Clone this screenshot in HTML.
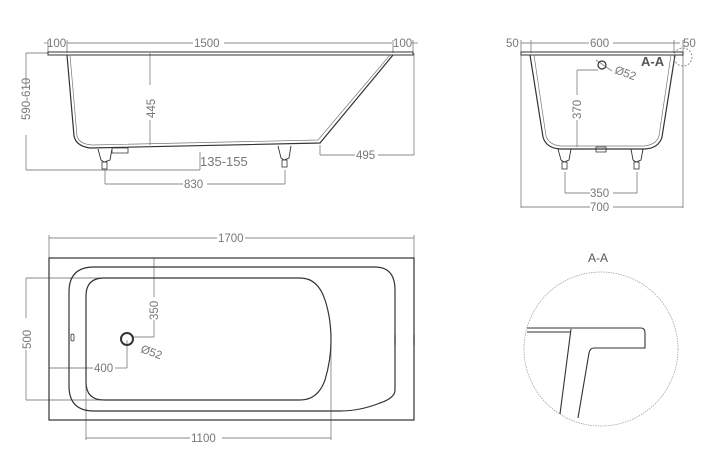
<!DOCTYPE html>
<html><head><meta charset="utf-8"><style>
html,body{margin:0;padding:0;background:#fff;}
svg{display:block;}
text{font-family:"Liberation Sans",sans-serif;font-size:11.5px;fill:#777;}
</style></head><body>
<svg width="723" height="473" viewBox="0 0 723 473" xmlns="http://www.w3.org/2000/svg">
<g fill="none" stroke="#888" stroke-width="0.9">
<line x1="44" y1="43" x2="48" y2="43"/><line x1="67" y1="43" x2="193" y2="43"/><line x1="224" y1="43" x2="392" y2="43"/><line x1="412" y1="43" x2="418" y2="43"/>
<line x1="48" y1="40" x2="48" y2="53"/><line x1="67" y1="40" x2="67" y2="53"/><line x1="393" y1="40" x2="393" y2="53"/><line x1="413" y1="40" x2="413" y2="53"/>
<line x1="26" y1="53" x2="48" y2="53"/><line x1="26" y1="53" x2="26" y2="88"/><line x1="26" y1="135" x2="26" y2="170"/><line x1="26" y1="170" x2="200" y2="170"/>
<line x1="200" y1="152" x2="200" y2="170"/>
<line x1="150" y1="53" x2="150" y2="85"/><line x1="150" y1="120" x2="150" y2="145"/>
<line x1="105" y1="170" x2="105" y2="184"/><line x1="285" y1="170" x2="285" y2="184"/>
<line x1="105" y1="184" x2="183" y2="184"/><line x1="207" y1="184" x2="285" y2="184"/>
<line x1="414" y1="53" x2="414" y2="155"/><line x1="320" y1="145" x2="320" y2="155"/>
<line x1="320" y1="155" x2="355" y2="155"/><line x1="378" y1="155" x2="414" y2="155"/>
<line x1="521" y1="43" x2="589" y2="43"/><line x1="613" y1="43" x2="680" y2="43"/>
<line x1="521" y1="40" x2="521" y2="208"/><line x1="683" y1="40" x2="683" y2="208"/><line x1="531" y1="40" x2="531" y2="53"/><line x1="674" y1="40" x2="674" y2="53"/>
<line x1="521" y1="207" x2="590" y2="207"/><line x1="613" y1="207" x2="683" y2="207"/>
<line x1="565" y1="172" x2="565" y2="193"/><line x1="637" y1="172" x2="637" y2="193"/>
<line x1="565" y1="193" x2="590" y2="193"/><line x1="613" y1="193" x2="637" y2="193"/>
<line x1="577" y1="70" x2="577" y2="95"/><line x1="577" y1="120" x2="577" y2="147"/><line x1="577" y1="70" x2="598" y2="70"/>
<line x1="596" y1="60" x2="612" y2="71"/>
<line x1="49" y1="235" x2="49" y2="258"/><line x1="414" y1="235" x2="414" y2="258"/>
<line x1="49" y1="238" x2="217" y2="238"/><line x1="245" y1="238" x2="414" y2="238"/>
<line x1="26" y1="278" x2="110" y2="278"/><line x1="26" y1="400" x2="110" y2="400"/>
<line x1="26" y1="278" x2="26" y2="318"/><line x1="26" y1="350" x2="26" y2="400"/>
<line x1="154" y1="258" x2="154" y2="297"/><line x1="154" y1="320" x2="154" y2="337"/><line x1="133" y1="337" x2="154" y2="337"/>
<line x1="49" y1="368" x2="93" y2="368"/><line x1="115" y1="368" x2="127" y2="368"/><line x1="127" y1="340" x2="127" y2="368"/>
<line x1="86" y1="380" x2="86" y2="440"/><line x1="331" y1="340" x2="331" y2="440"/>
<line x1="86" y1="438" x2="190" y2="438"/><line x1="222" y1="438" x2="331" y2="438"/>
</g>
<g fill="none" stroke="#333" stroke-width="1.2">
<path d="M48 52 H413 V55 H48 Z" stroke-width="1"/>
<path d="M67 55 L74 136 Q76 146 90 148 L320 143 L393 55"/>
<path d="M70 55 L77 136 Q79 144 92 145 L318 140 L390 55" stroke="#777" stroke-width="0.7"/>
<path d="M112 148 H128 V153 H112 Z" stroke-width="0.8"/>
<path d="M98 149 L101 160 L104 162 L110 160 L112 149" stroke-width="0.9"/>
<rect x="102" y="162" width="5" height="7" stroke-width="0.8"/>
<path d="M278 146 L281 158 L284 160 L289 158 L291 146" stroke-width="0.9"/>
<rect x="282" y="160" width="5" height="7" stroke-width="0.8"/>
<path d="M521 52 H683 V55 H521 Z" stroke-width="1"/>
<path d="M530 55 L543 137 Q546 148 560 149 L645 149 Q659 148 662 137 L675 55"/>
<path d="M534 55 L546 136 Q549 145 561 146 L644 146 Q656 145 659 136 L671 55" stroke="#777" stroke-width="0.7"/>
<path d="M596 147 H606 V152 H596 Z" stroke-width="0.8"/>
<path d="M558 149 L561 160 L564 162 L569 160 L571 149" stroke-width="0.9"/>
<rect x="562" y="162" width="5" height="7" stroke-width="0.8"/>
<path d="M631 149 L633 160 L636 162 L641 160 L643 149" stroke-width="0.9"/>
<rect x="634" y="162" width="5" height="7" stroke-width="0.8"/>
<circle cx="602" cy="65" r="4"/>
<circle cx="683" cy="57" r="9" stroke="#777" stroke-dasharray="2 1.5" stroke-width="0.8"/>
<rect x="49" y="258" width="365" height="162"/>
<path d="M94 267 H375 Q395 267 395 290 V390 Q395 398 380 403 Q360 411 340 411 H94 Q69 411 69 386 V292 Q69 267 94 267 Z"/>
<path d="M104 278 H300 Q318 278 325 300 Q331 318 331 340 Q331 360 325 380 Q318 400 300 400 H104 Q86 400 86 382 V296 Q86 278 104 278 Z"/>
<circle cx="127" cy="339" r="6" stroke-width="2"/>
<rect x="71" y="334" width="3" height="7" rx="1.5" stroke-width="0.8"/>
<line x1="395" y1="335" x2="395" y2="345"/><line x1="414" y1="335" x2="414" y2="345"/>
<circle cx="601" cy="349" r="77" stroke="#999" stroke-dasharray="1.5 1" stroke-width="0.7"/>
<path d="M527 328 H641 Q645 328 645 333 V348 H594 Q590 348 589 353 L578 418" stroke-width="1.1"/>
<path d="M527 332 H570" stroke-width="1.1"/>
<path d="M571 329 L560 414" stroke-width="1.1"/>
</g>
<text x="47" y="47">100</text>
<text x="194" y="47">1500</text>
<text x="393" y="47">100</text>
<text x="0" y="0" transform="translate(30,120) rotate(-90)">590-610</text>
<text x="0" y="0" transform="translate(155,118) rotate(-90)">445</text>
<text x="200" y="166" style="font-size:13px">135-155</text>
<text x="184" y="188">830</text>
<text x="356" y="159">495</text>
<text x="506" y="47">50</text>
<text x="590" y="47">600</text>
<text x="683" y="47">50</text>
<text x="641" y="66" style="font-size:13px;fill:#555;font-weight:bold">A-A</text>
<text x="0" y="0" transform="translate(614,73) rotate(20)">Ø52</text>
<text x="0" y="0" transform="translate(581,119) rotate(-90)">370</text>
<text x="590" y="197">350</text>
<text x="590" y="211">700</text>
<text x="218" y="242">1700</text>
<text x="0" y="0" transform="translate(31,349) rotate(-90)">500</text>
<text x="0" y="0" transform="translate(158,320) rotate(-90)">350</text>
<text x="0" y="0" transform="translate(140,352) rotate(20)">Ø52</text>
<text x="94" y="372">400</text>
<text x="191" y="442">1100</text>
<text x="588" y="262" style="font-size:12px;fill:#555">A-A</text>
</svg>
</body></html>
